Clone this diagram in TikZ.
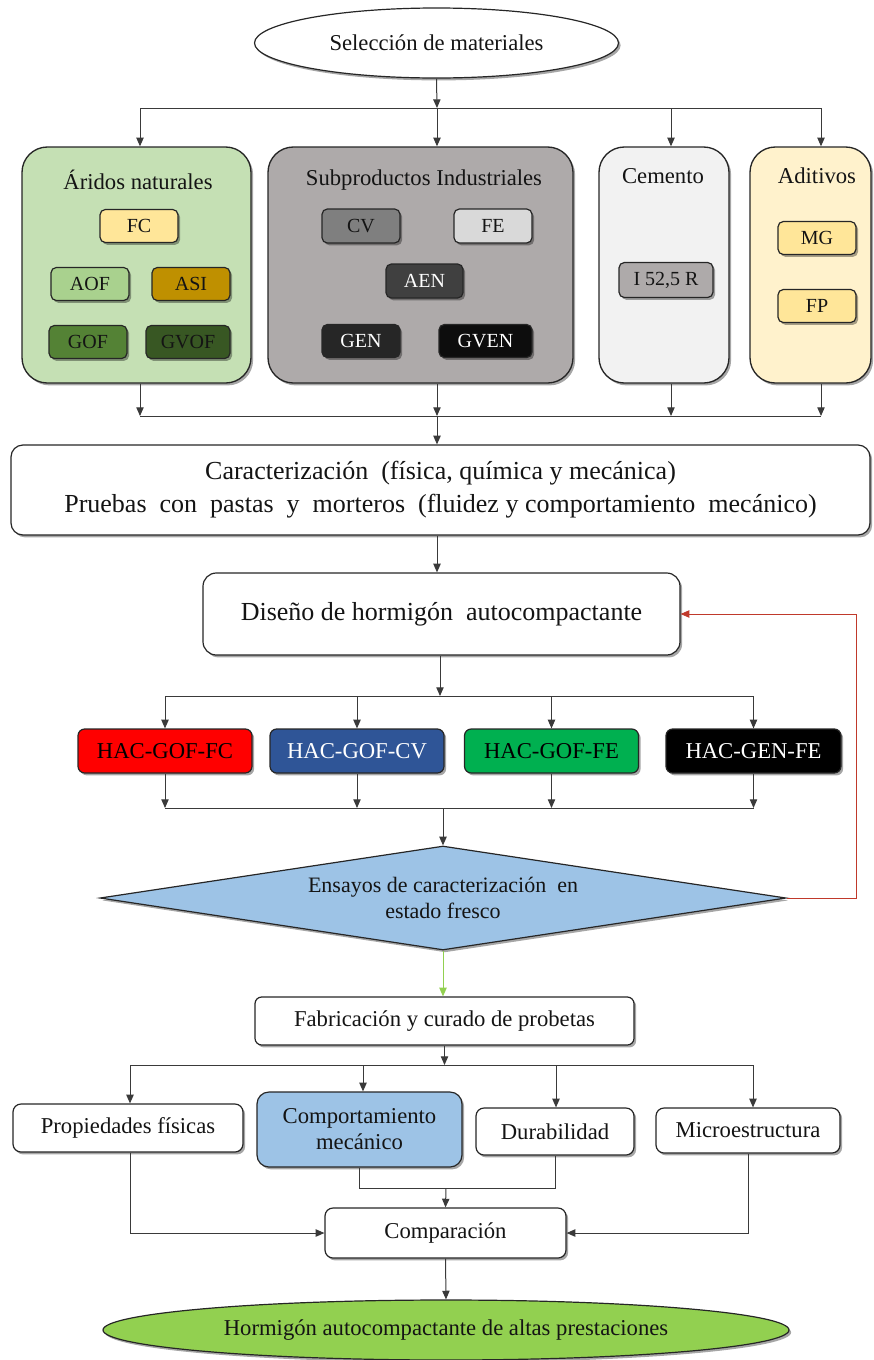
\documentclass[tikz,border=0pt]{standalone}
\usepackage{fontspec}
\setmainfont{Liberation Serif}
\usetikzlibrary{arrows.meta,shapes.geometric,shadows}

\definecolor{ink}{HTML}{141414}
\definecolor{edge}{HTML}{262626}
\definecolor{wire}{HTML}{3A3A3A}
\definecolor{aridfill}{HTML}{C5E0B4}
\definecolor{subpfill}{HTML}{AEAAAA}
\definecolor{cemfill}{HTML}{F2F2F2}
\definecolor{aditfill}{HTML}{FFF2CC}
\definecolor{sand}{HTML}{FFE699}
\definecolor{aofc}{HTML}{A9D18E}
\definecolor{asic}{HTML}{BF9000}
\definecolor{gofc}{HTML}{548235}
\definecolor{gvofc}{HTML}{385723}
\definecolor{cvc}{HTML}{7F7F7F}
\definecolor{fec}{HTML}{D9D9D9}
\definecolor{aenc}{HTML}{404040}
\definecolor{genc}{HTML}{262626}
\definecolor{gvenc}{HTML}{0D0D0D}
\definecolor{hacred}{HTML}{FF0000}
\definecolor{hacblue}{HTML}{2F5597}
\definecolor{hacgreen}{HTML}{00B050}
\definecolor{paleblue}{HTML}{9DC3E6}
\definecolor{limegreen}{HTML}{92D050}
\definecolor{loopred}{HTML}{C0392B}

\tikzset{
  every node/.style={inner sep=0pt, text=ink},
  wh/.style 2 args={minimum width=#1*0.75pt, minimum height=#2*0.75pt},
  fnt/.style={font=\fontsize{#1}{#1}\selectfont},
  shade/.style={drop shadow={shadow xshift=1.6pt, shadow yshift=-1.8pt, opacity=0.35, fill=black}},
  card/.style={draw=edge, line width=0.9pt, rounded corners=#1, shade},
  card/.default=5pt,
  group/.style={draw=edge, line width=1pt, rounded corners=19pt, shade},
  chip/.style={card=4pt, fnt=15},
  ln/.style={draw=wire, line width=0.75pt},
  arr/.style={ln, -{Triangle[length=6.5pt, width=5.5pt]}},
}

\begin{document}
\begin{tikzpicture}[x=0.75pt, y=-0.75pt]
  \useasboundingbox (0,0) rectangle (874,1360);

  % --- material selection -------------------------------------------------
  \node[ellipse, draw=edge, line width=0.9pt, fill=white, shade, wh={364}{70}, fnt=17]
    (sel) at (436.5,43) {Selección de materiales};

  \node[group, fill=aridfill, wh={229}{236}] (arid) at (136.5,265) {};
  \node[group, fill=subpfill, wh={305}{236}] (subp) at (420.5,265) {};
  \node[group, fill=cemfill,  wh={130}{236}] (cem)  at (664,265) {};
  \node[group, fill=aditfill, wh={121}{236}] (adit) at (810.5,265) {};

  \node[fnt=17] (aridt) at (138,180) {Áridos naturales};
  \node[fnt=17] (subpt) at (424,180) {Subproductos Industriales};
  \node[fnt=17] (cemt)  at (663,176) {Cemento};
  \node[fnt=17] (aditt) at (817,176) {Aditivos};

  \node[chip, fill=sand,  wh={78}{33}] (fc)   at (139,226) {FC};
  \node[chip, fill=aofc,  wh={78}{33}] (aof)  at (90,284)  {AOF};
  \node[chip, fill=asic,  wh={78}{33}] (asi)  at (191,284) {ASI};
  \node[chip, fill=gofc,  wh={78}{33}] (gof)  at (88,342)  {GOF};
  \node[chip, fill=gvofc, wh={84}{33}] (gvof) at (188,342) {GVOF};

  \node[chip, fill=cvc,   wh={78}{34}] (cv)   at (361,226) {CV};
  \node[chip, fill=fec,   wh={78}{34}] (fe)   at (493,226) {FE};
  \node[chip, fill=aenc,  wh={77}{34}, text=white] (aen)  at (424.5,281) {AEN};
  \node[chip, fill=genc,  wh={78}{33}, text=white] (gen)  at (361,341) {GEN};
  \node[chip, fill=gvenc, wh={93}{33}, text=white] (gven) at (485.5,341) {GVEN};

  \node[chip, fill=subpfill, wh={94}{35}] (i525) at (666,280) {I 52,5 R};

  \node[chip, fill=sand, wh={78}{33}] (mg) at (817,238) {MG};
  \node[chip, fill=sand, wh={78}{33}] (fp) at (817,306) {FP};

  % distribution from the selection to the four groups
  \coordinate (ta) at (140,108);
  \coordinate (tb) at (437,108);
  \coordinate (tc) at (671,108);
  \coordinate (td) at (821,108);
  \draw[ln] (ta) -- (td);
  \draw[arr] (sel.south) -- (tb);
  \draw[arr] (ta) -- (ta |- arid.north);
  \draw[arr] (tb) -- (tb |- subp.north);
  \draw[arr] (tc) -- (tc |- cem.north);
  \draw[arr] (td) -- (td |- adit.north);

  % gathering of the groups
  \coordinate (ba) at (140,416);
  \coordinate (bb) at (437,416);
  \coordinate (bc) at (671,416);
  \coordinate (bd) at (821,416);
  \draw[arr] (ba |- arid.south) -- (ba);
  \draw[arr] (bb |- subp.south) -- (bb);
  \draw[arr] (bc |- cem.south) -- (bc);
  \draw[arr] (bd |- adit.south) -- (bd);
  \draw[ln] (ba) -- (bd);

  % --- characterisation and design ----------------------------------------
  \node[card=9pt, fill=white, wh={859}{90}, align=center, font=\fontsize{19.5}{24.75}\selectfont]
    (carac) at (440.5,490)
    {Caracterización \ (física, química y mecánica)\\
     Pruebas \ con \ pastas \ y \ morteros \ (fluidez y comportamiento \ mecánico)};

  \node[card=10pt, fill=white, wh={477}{82}, font=\fontsize{19.5}{23}\selectfont]
    (diseno) at (441.5,614) {Diseño de hormigón \ autocompactante};

  \draw[arr] (bb) -- (bb |- carac.north);
  \draw[arr] (bb |- carac.south) -- (bb |- diseno.north);

  % --- mixes ---------------------------------------------------------------
  \node[card=5pt, fill=hacred,   wh={174}{44}, fnt=17, text=black] (hac1) at (165,751)   {HAC-GOF-FC};
  \node[card=5pt, fill=hacblue,  wh={174}{44}, fnt=17, text=white] (hac2) at (357,751)   {HAC-GOF-CV};
  \node[card=5pt, fill=hacgreen, wh={174}{44}, fnt=17, text=black] (hac3) at (551.5,751) {HAC-GOF-FE};
  \node[card=5pt, fill=black,    wh={175}{44}, fnt=17, text=white] (hac4) at (753.5,751) {HAC-GEN-FE};

  \coordinate (hs) at (440,696);
  \draw[arr] (hs |- diseno.south) -- (hs);
  \draw[ln] (hac1.north |- hs) -- (hac4.north |- hs);
  \foreach \h in {hac1,hac2,hac3,hac4}
    \draw[arr] (\h.north |- hs) -- (\h.north);

  \coordinate (hj) at (443,808);
  \draw[ln] (hac1.south |- hj) -- (hac4.south |- hj);
  \foreach \h in {hac1,hac2,hac3,hac4}
    \draw[arr] (\h.south) -- (\h.south |- hj);

  % --- fresh-state tests ---------------------------------------------------
  \node[diamond, aspect=6.6, draw=edge, line width=0.9pt, fill=paleblue, shade,
        wh={686}{104}, align=center, font=\fontsize{16.5}{21}\selectfont]
    (ens) at (443,898) {Ensayos de caracterización \ en\\[-1pt] estado fresco};

  \draw[arr] (hj) -- (ens.north);

  \coordinate (loop) at (856,750);
  \draw[draw=loopred, line width=0.6pt, -{Triangle[length=6.5pt, width=5.5pt]}]
    (ens.east) -| (loop) |- (diseno.east);

  % --- specimens and tests -------------------------------------------------
  \node[card=5pt, fill=white, wh={379}{48}, fnt=17] (fab) at (444.5,1021)
    {Fabricación y curado de probetas};
  \draw[draw=limegreen, line width=0.75pt, -{Triangle[length=6.5pt, width=5.5pt]}]
    (ens.south) -- (ens.south |- fab.north);

  \node[card=6pt, fill=white,     wh={230}{48}, fnt=17] (prop)  at (128,1128)   {Propiedades físicas};
  \node[card=9pt, fill=paleblue,  wh={205}{75}, align=center, font=\fontsize{17}{19.5}\selectfont]
    (mech) at (359.5,1129.5) {Comportamiento\\mecánico};
  \node[card=6pt, fill=white,     wh={158}{47}, fnt=17] (dur)   at (555,1131.5) {Durabilidad};
  \node[card=6pt, fill=white,     wh={184}{45}, fnt=17] (micro) at (748,1130.5) {Microestructura};

  \coordinate (pa) at (130,1065);
  \coordinate (pb) at (363,1065);
  \coordinate (pc) at (556,1065);
  \coordinate (pd) at (753,1065);
  \draw[arr] (fab.south) -- (fab.south |- pa);
  \draw[ln] (pa) -- (pd);
  \draw[arr] (pa) -- (pa |- prop.north);
  \draw[arr] (pb) -- (pb |- mech.north);
  \draw[arr] (pc) -- (pc |- dur.north);
  \draw[arr] (pd) -- (pd |- micro.north);

  % --- comparison and result -----------------------------------------------
  \node[card=6pt, fill=white, wh={241}{50}, fnt=17] (cmp) at (445.5,1233) {Comparación};

  \coordinate (jn) at (446,1188);
  \draw[ln] (mech.south) |- (jn) -| (dur.south);
  \draw[arr] (jn) -- (cmp.north);
  \draw[arr] (pa |- prop.south) |- (cmp.west);
  \draw[arr] (micro.south) |- (cmp.east);

  \node[ellipse, draw=edge, line width=0.9pt, fill=limegreen, shade, wh={686}{60}, fnt=17]
    (fin) at (446,1330) {Hormigón autocompactante de altas prestaciones};
  \draw[arr] (cmp.south) -- (fin.north);
\end{tikzpicture}
\end{document}
